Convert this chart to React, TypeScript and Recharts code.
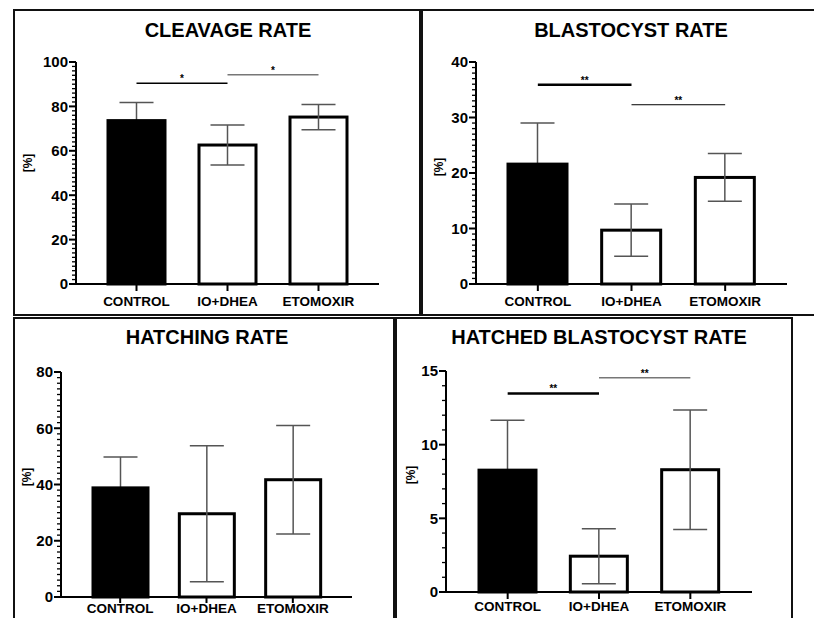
import React from 'react';
import { BarChart, Bar, XAxis, YAxis, ReferenceLine } from 'recharts';

const FONT = '"Liberation Sans", Arial, Helvetica, sans-serif';

const categories = ['CONTROL', 'IO+DHEA', 'ETOMOXIR'];

const cleavageMean = [73.6, 62.6, 75.2];
const cleavageSd = [8.2, 9.0, 5.7];

const blastocystMean = [21.6, 9.7, 19.2];
const blastocystSd = [7.4, 4.7, 4.3];

const hatchingMean = [38.8, 29.6, 41.7];
const hatchingSd = [11.0, 24.2, 19.3];

const hatchedMean = [8.27, 2.43, 8.3];
const hatchedSd = [3.38, 1.87, 4.05];

const cleavageSig = [
  { from: 'CONTROL', to: 'IO+DHEA', y: 90.4, mark: '*', stroke: '#000', w: 1.5 },
  { from: 'IO+DHEA', to: 'ETOMOXIR', y: 94.3, mark: '*', stroke: '#777', w: 1.5 },
];
const blastocystSig = [
  { from: 'CONTROL', to: 'IO+DHEA', y: 35.9, mark: '**', stroke: '#000', w: 2.5 },
  { from: 'IO+DHEA', to: 'ETOMOXIR', y: 32.3, mark: '**', stroke: '#000', w: 1 },
];
const hatchedSig = [
  { from: 'CONTROL', to: 'IO+DHEA', y: 13.48, mark: '**', stroke: '#000', w: 2.5 },
  { from: 'IO+DHEA', to: 'ETOMOXIR', y: 14.55, mark: '**', stroke: '#777', w: 1.5 },
];

type Sig = { from: string; to: string; y: number; mark: string; stroke: string; w: number };

type Geo = {
  axisX: number; xEnd: number; yTop: number; yBottom: number; pad: number; barSize: number;
  titleX: number; titleY: number; labelX: number; labelY: number; xTickSize: number; xTickMargin: number;
  box: { l: number; t: number; w: number; h: number };
};

function makeYTick(majorStep: number) {
  return (props: any) => {
    const { x, y, payload } = props;
    const v = payload.value;
    const major = Math.abs(v / majorStep - Math.round(v / majorStep)) < 1e-6;
    const len = major ? 7 : 4;
    return (
      <g>
        <line x1={x - len} y1={y} x2={x} y2={y} stroke="#000" strokeWidth={major ? 2 : 1.3} />
        {major && (
          <text x={x - 8} y={y} dy="0.36em" textAnchor="end" fontSize={15} fontWeight="bold" fill="#000" fontFamily={FONT}>
            {v}
          </text>
        )}
      </g>
    );
  };
}

// Bar shape with its error bar; the control's error bar is drawn behind the filled bar
const barWithError = (props: any) => {
  const { x, y, width, height, index, payload } = props;
  const mean = payload.mean as number;
  const sd = payload.err as number;
  const k = mean ? height / mean : 0;
  const cx = x + width / 2;
  const yHi = y - sd * k;
  const yLo = y + sd * k;
  const filled = index === 0;
  const err = (
    <g key="err" stroke="#555" strokeWidth={1.5}>
      <line x1={cx} x2={cx} y1={yHi} y2={yLo} />
      <line x1={cx - 17} x2={cx + 17} y1={yHi} y2={yHi} />
      <line x1={cx - 17} x2={cx + 17} y1={yLo} y2={yLo} />
    </g>
  );
  const rect = (
    <rect key="rect" x={x} y={y} width={width} height={height} fill={filled ? '#000' : '#fff'} stroke="#000" strokeWidth={3} />
  );
  return <g>{filled ? [err, rect] : [rect, err]}</g>;
};

function Panel(props: {
  title: string; means: number[]; sds: number[]; yMax: number; majorStep: number; minorStep: number;
  sig: Sig[]; geo: Geo;
}) {
  const { title, means, sds, yMax, majorStep, minorStep, sig, geo } = props;
  const data = categories.map((name, i) => ({ name, mean: means[i], err: sds[i] }));
  const ticks: number[] = [];
  const n = Math.round(yMax / minorStep);
  for (let k = 0; k <= n; k++) ticks.push(k * minorStep);

  const left = geo.axisX - 60;
  const top = geo.yTop - 14;
  const width = geo.xEnd + 12 - left;
  const height = geo.yBottom + 36 - top;

  return (
    <>
      <div
        style={{
          position: 'absolute', left: geo.box.l, top: geo.box.t, width: geo.box.w, height: geo.box.h,
          border: '2px solid #111', boxSizing: 'border-box', background: '#fff',
        }}
      />
      <div
        style={{
          position: 'absolute', left: geo.titleX - 200, width: 400, top: geo.titleY - 11, textAlign: 'center',
          fontSize: 20, fontWeight: 'bold', lineHeight: '22px', fontFamily: FONT, color: '#000',
        }}
      >
        {title}
      </div>
      <div
        style={{
          position: 'absolute', left: geo.labelX, top: geo.labelY, transform: 'translate(-50%,-50%) rotate(-90deg)',
          fontSize: 12, fontWeight: 'bold', fontFamily: FONT, color: '#000', whiteSpace: 'nowrap', lineHeight: '12px',
        }}
      >
        [%]
      </div>
      <div style={{ position: 'absolute', left, top }}>
        <BarChart width={width} height={height} data={data} margin={{ top: 14, right: 12, bottom: 0, left: 0 }}>
          <XAxis
            dataKey="name"
            type="category"
            padding={{ left: geo.pad, right: geo.pad }}
            axisLine={{ stroke: '#000', strokeWidth: 2 }}
            tickLine={{ stroke: '#000', strokeWidth: 2 }}
            tickSize={geo.xTickSize}
            tickMargin={geo.xTickMargin}
            height={36}
            interval={0}
            tick={{ fill: '#000', fontSize: 13.5, fontWeight: 'bold', fontFamily: FONT }}
          />
          <YAxis
            type="number"
            domain={[0, yMax]}
            ticks={ticks}
            interval={0}
            width={60}
            tickSize={0}
            tickMargin={0}
            tickLine={false}
            axisLine={{ stroke: '#000', strokeWidth: 2 }}
            tick={makeYTick(majorStep)}
          />
          <Bar dataKey="mean" barSize={geo.barSize} isAnimationActive={false} shape={barWithError} />
          {sig.map((s, i) => (
            <ReferenceLine
              key={i}
              segment={[{ x: s.from, y: s.y }, { x: s.to, y: s.y }]}
              stroke={s.stroke}
              strokeWidth={s.w}
              label={{ value: s.mark, position: 'top', offset: 1, fontSize: 10, fontWeight: 'bold', fill: '#000', fontFamily: FONT }}
            />
          ))}
        </BarChart>
      </div>
    </>
  );
}

const geo1: Geo = {
  axisX: 76, xEnd: 379, yTop: 62, yBottom: 284, pad: 15, barSize: 57,
  titleX: 228, titleY: 30, labelX: 28, labelY: 163, xTickSize: 7, xTickMargin: 5,
  box: { l: 13, t: 9, w: 408, h: 307 },
};
const geo2: Geo = {
  axisX: 476, xEnd: 787, yTop: 62, yBottom: 284, pad: 15, barSize: 59,
  titleX: 631, titleY: 30, labelX: 439, labelY: 167, xTickSize: 7, xTickMargin: 5,
  box: { l: 421, t: 9, w: 420, h: 307 },
};
const geo3: Geo = {
  axisX: 61, xEnd: 352, yTop: 372, yBottom: 597, pad: 16, barSize: 55,
  titleX: 207, titleY: 337, labelX: 27, labelY: 477, xTickSize: 6, xTickMargin: 0,
  box: { l: 13, t: 317, w: 382, h: 320 },
};
const geo4: Geo = {
  axisX: 446, xEnd: 752, yTop: 371, yBottom: 592, pad: 16, barSize: 57,
  titleX: 599, titleY: 337, labelX: 411, labelY: 475, xTickSize: 7, xTickMargin: 2,
  box: { l: 395, t: 317, w: 398, h: 320 },
};

export default function App() {
  return (
    <div
      style={{
        position: 'absolute', left: 0, top: 0, width: 814, height: 618, overflow: 'hidden',
        background: '#fff', fontFamily: FONT,
      }}
    >
      <Panel title="CLEAVAGE RATE" means={cleavageMean} sds={cleavageSd} yMax={100} majorStep={20} minorStep={2} sig={cleavageSig} geo={geo1} />
      <Panel title="BLASTOCYST RATE" means={blastocystMean} sds={blastocystSd} yMax={40} majorStep={10} minorStep={1} sig={blastocystSig} geo={geo2} />
      <Panel title="HATCHING RATE" means={hatchingMean} sds={hatchingSd} yMax={80} majorStep={20} minorStep={2} sig={[]} geo={geo3} />
      <Panel title="HATCHED BLASTOCYST RATE" means={hatchedMean} sds={hatchedSd} yMax={15} majorStep={5} minorStep={1} sig={hatchedSig} geo={geo4} />
    </div>
  );
}
